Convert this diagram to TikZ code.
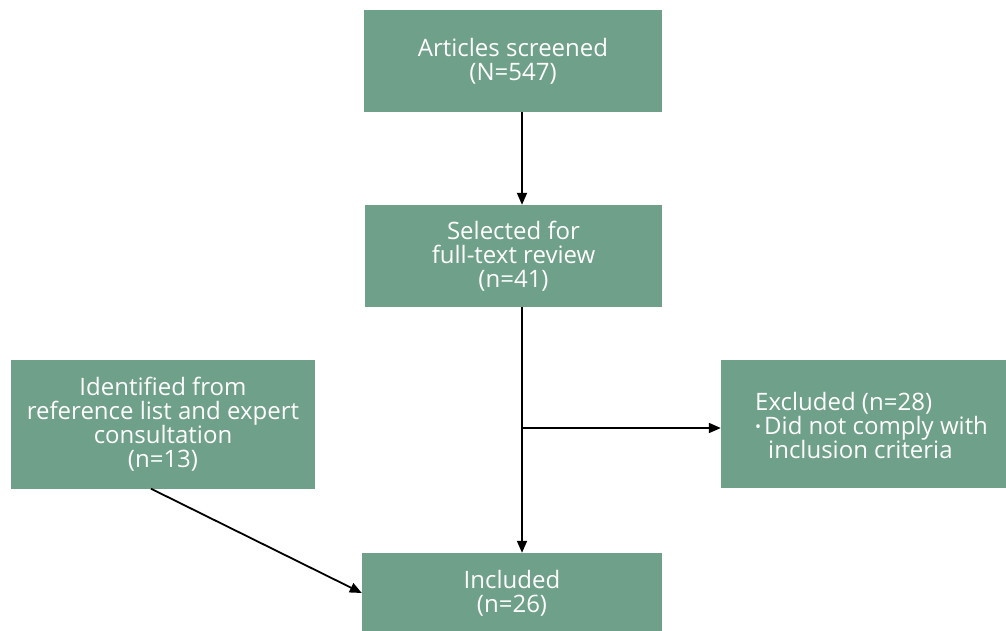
\documentclass[tikz,border=0pt]{standalone}
\usepackage{fontspec}
\setmainfont{Open Sans}
\usetikzlibrary{arrows.meta,calc}
\definecolor{boxgreen}{RGB}{111,160,137}
\begin{document}
\begin{tikzpicture}[x=1pt,y=-1pt,
  box/.style={fill=boxgreen, draw=none, text=white, align=center, inner sep=0pt,
    font=\fontsize{24}{24}\selectfont},
  txt/.style={text=white, inner sep=0pt, font=\fontsize{24}{24}\selectfont},
  conn/.style={line width=1.8pt, -{Triangle[length=12pt,width=10pt]}},
  plain/.style={line width=1.8pt}]
\useasboundingbox (0,0) rectangle (1006,630);
\node[box, minimum width=298pt, minimum height=102pt] (A) at (513,61) {Articles screened\\(N=547)};
\node[box, minimum width=297pt, minimum height=102pt] (B) at (513.5,256) {Selected for\\full-text review\\(n=41)};
\node[box, minimum width=304pt, minimum height=129pt] (C) at (163,424) {Identified from\\reference list and expert\\consultation\\(n=13)};
\node[box, minimum width=285pt, minimum height=128pt] (D) at (863.5,424) {};
\node[txt, align=left, anchor=west] (Dtxt) at (755,425) {Excluded (n=28)\\{\fontsize{16}{24}\selectfont\raisebox{2pt}{•}}\hspace{3pt}Did not comply with\\\hspace*{13pt}inclusion criteria};
\node[box, minimum width=300pt, minimum height=80pt] (E) at (512,593) {Included\\(n=26)};
\coordinate (spine) at (522,0);
\coordinate (branch) at (522,428);
\draw[conn] (A.south -| spine) -- (B.north -| spine);
\draw[plain] (B.south -| spine) -- (branch);
\draw[conn] (branch) -- (E.north -| spine);
\draw[conn] (branch) -- (branch -| D.west);
\draw[conn] ($(C.south)+(-12,0)$) -- (E.west);
\end{tikzpicture}
\end{document}
